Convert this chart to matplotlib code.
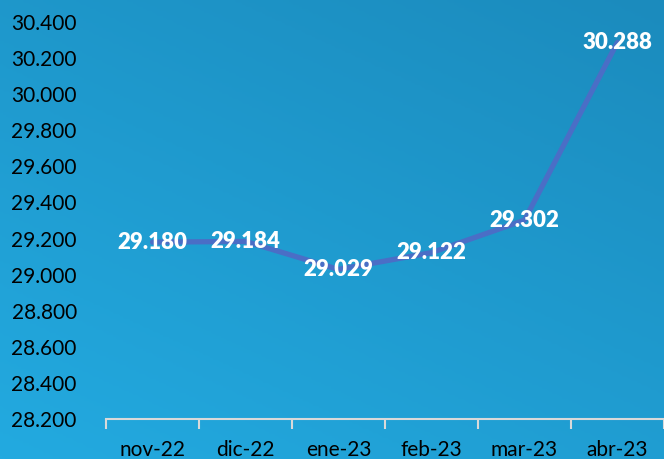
import numpy as np
import matplotlib.pyplot as plt
from matplotlib.colors import LinearSegmentedColormap

# Data
months = ["nov-22", "dic-22", "ene-23", "feb-23", "mar-23", "abr-23"]
values = [29.180, 29.184, 29.029, 29.122, 29.302, 30.288]
yticks = [28.2, 28.4, 28.6, 28.8, 29.0, 29.2, 29.4, 29.6, 29.8, 30.0, 30.2, 30.4]

plt.rcParams['font.family'] = ['Lato', 'DejaVu Sans']

fig = plt.figure(figsize=(6.64, 4.59), dpi=100)

# Background gradient (darker top-right, lighter bottom-left)
bg = fig.add_axes([0, 0, 1, 1], zorder=0)
yy, xx = np.mgrid[0:1:200j, 0:1:200j]
grad = (xx * 0.4 + yy * 0.6)
cmap = LinearSegmentedColormap.from_list("bg", ["#23aae0", "#1b8bbd"])
bg.imshow(grad, cmap=cmap, origin="lower", extent=[0, 1, 0, 1], aspect="auto")
bg.axis("off")

ax = fig.add_axes([106 / 664, 1 - 419 / 459, 558 / 664, (419 - 22) / 459], zorder=1)
ax.patch.set_alpha(0)

x = np.arange(len(months))
ax.plot(x, values, color="#4a6ec6", linewidth=3.8, solid_capstyle="round", zorder=2)

for xi, v in zip(x, values):
    ax.text(xi, v, f"{v:.3f}", color="white", fontsize=16, fontweight="heavy",
            ha="center", va="center", zorder=3)

ax.set_xlim(-0.5, len(months) - 0.5)
ax.set_ylim(28.2, 30.4)
ax.set_yticks(yticks)
ax.set_yticklabels([f"{t:.3f}" for t in yticks], fontsize=15, color="black")
ax.set_xticks(x)
ax.set_xticklabels(months, fontsize=15, color="black")
ax.set_xticks(np.arange(-0.5, len(months)), minor=True)

ax.tick_params(axis="y", length=0, pad=21)
ax.tick_params(axis="x", which="major", length=0, pad=15)
ax.tick_params(axis="x", which="minor", length=7, width=1.5, color="#d9d9d9")

for s in ["top", "right", "left"]:
    ax.spines[s].set_visible(False)
ax.spines["bottom"].set_color("#d9d9d9")
ax.spines["bottom"].set_linewidth(1.5)

fig.savefig("out.png", dpi=100)
